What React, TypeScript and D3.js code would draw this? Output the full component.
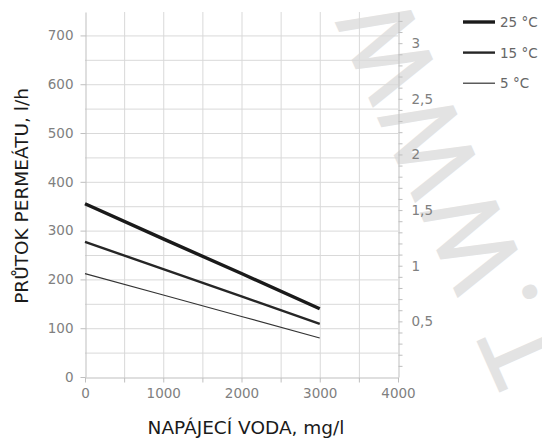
import * as d3 from 'd3';
import React, {useEffect, useRef} from "react";

// feed water concentration, mg/l
const feed = [0, 1000, 2000, 3000];
// permeate flow, l/h
const flow25 = [355, 283, 212, 140];
const flow15 = [277, 221, 165, 109];
const flow5 = [212, 168, 124, 80];

const seriesNames = ["25 °C", "15 °C", "5 °C"];
const leftTicks = [0, 100, 200, 300, 400, 500, 600, 700];
const bottomTicks = [0, 1000, 2000, 3000, 4000];
const rightTicks = [0.5, 1, 1.5, 2, 2.5, 3];

export default function App() {
  const node = useRef<SVGSVGElement>(null);

  useEffect(() => {
    const svg = d3.select(node.current);
    svg.selectAll("*").remove();

    const margin = {top: 12, right: 144, bottom: 62, left: 85};
    const width = 542;
    const height = 439;
    const font = "'DejaVu Sans', Verdana, sans-serif";
    const grey = "#808080";

    const x = d3.scaleLinear().domain([0, 4000]).range([margin.left, width - margin.right]);
    const y = d3.scaleLinear().domain([0, 748]).range([height - margin.bottom, margin.top]);
    const y2 = d3.scaleLinear().domain([0, 3.28]).range([height - margin.bottom, margin.top]);

    // watermark (mirrored, as in the scan)
    svg.append("text")
        .attr("transform", "translate(402,-8) rotate(66) scale(1,-1)")
        .attr("font-family", "'Open Sans', sans-serif").attr("font-size", 102)
        .attr("letter-spacing", 10)
        .attr("fill", "#e3e3e3").attr("stroke", "#e3e3e3").attr("stroke-width", 2)
        .text("WWW.T");

    // grid
    svg.append("g")
        .attr("stroke", "#d9d9d9")
        .selectAll("line")
        .data(d3.range(50, 701, 50))
        .join("line")
        .attr("x1", x(0)).attr("x2", x(4000))
        .attr("y1", d => y(d) + 0.5).attr("y2", d => y(d) + 0.5);
    svg.append("g")
        .attr("stroke", "#d9d9d9")
        .selectAll("line")
        .data(d3.range(500, 3501, 500))
        .join("line")
        .attr("x1", d => x(d) + 0.5).attr("x2", d => x(d) + 0.5)
        .attr("y1", y(748)).attr("y2", y(0));

    const axisColor = "#bfbfbf";

    const xAxis = g => g
        .attr("transform", `translate(0,${y(0) + 0.5})`)
        .call(d3.axisBottom(x).tickValues(d3.range(0, 4001, 500)).tickSize(5).tickSizeOuter(0)
            .tickFormat(d => bottomTicks.includes(d) ? String(d) : ""))
        .call(g => g.select(".domain").attr("stroke", axisColor))
        .call(g => g.selectAll(".tick line").attr("stroke", axisColor))
        .call(g => g.selectAll(".tick text").attr("fill", grey).attr("dy", "0.95em")
            .attr("font-family", font).attr("font-size", 13.5));

    const yAxis = g => g
        .attr("transform", `translate(${x(0) + 0.5},0)`)
        .call(d3.axisLeft(y).tickValues(leftTicks).tickSize(5).tickSizeOuter(0).tickPadding(7))
        .call(g => g.select(".domain").attr("stroke", axisColor))
        .call(g => g.selectAll(".tick line").attr("stroke", axisColor))
        .call(g => g.selectAll(".tick text").attr("fill", grey)
            .attr("font-family", font).attr("font-size", 13.5));

    const yAxisRight = g => g
        .attr("transform", `translate(${x(4000) + 0.5},0)`)
        .call(d3.axisRight(y2).tickValues(d3.range(1, 33).map(d => d / 10)).tickSize(4).tickSizeOuter(0)
            .tickPadding(9)
            .tickFormat(d => rightTicks.some(t => Math.abs(t - d) < 1e-6) ? d3.format(".2~f")(d).replace(".", ",") : ""))
        .call(g => g.select(".domain").attr("stroke", axisColor))
        .call(g => g.selectAll(".tick line").attr("stroke", axisColor))
        .call(g => g.selectAll(".tick text").attr("fill", grey)
            .attr("font-family", font).attr("font-size", 13.5));

    svg.append("g").call(xAxis);
    svg.append("g").call(yAxis);
    svg.append("g").call(yAxisRight);

    // titles
    svg.append("text")
        .attr("transform", "translate(28,196) rotate(-90)")
        .attr("text-anchor", "middle")
        .attr("font-family", font).attr("font-size", 18.5)
        .attr("fill", "#1a1a1a")
        .text("PRŮTOK PERMEÁTU, l/h");
    svg.append("text")
        .attr("x", 246).attr("y", 434)
        .attr("text-anchor", "middle")
        .attr("font-family", font).attr("font-size", 18.5)
        .attr("fill", "#1a1a1a")
        .text("NAPÁJECÍ VODA, mg/l");

    // series
    const series = [flow25, flow15, flow5];
    const widths = [3.4, 2.4, 1.2];
    const colors = ["#1a1a1a", "#262626", "#333333"];
    const line = d3.line<number>()
        .x((d, i) => x(feed[i]))
        .y(d => y(d));

    series.forEach((s, i) => {
      svg.append("path")
          .datum(s)
          .attr("fill", "none")
          .attr("stroke", colors[i])
          .attr("stroke-width", widths[i])
          .attr("d", line);
    });

    // legend
    const legend = svg.append("g");
    seriesNames.forEach((name, i) => {
      const ly = 22 + i * 30.6;
      legend.append("line")
          .attr("x1", 463).attr("x2", 495)
          .attr("y1", ly).attr("y2", ly)
          .attr("stroke", colors[i]).attr("stroke-width", widths[i]);
      legend.append("text")
          .attr("x", 500).attr("y", ly + 5)
          .attr("font-family", font).attr("font-size", 13.5)
          .attr("fill", "#666666")
          .text(name);
    });
  }, []);

  return (
      <svg ref={node} width={542} height={439}
           style={{position: "absolute", left: 0, top: 0, background: "#fff"}}/>
  );
}
